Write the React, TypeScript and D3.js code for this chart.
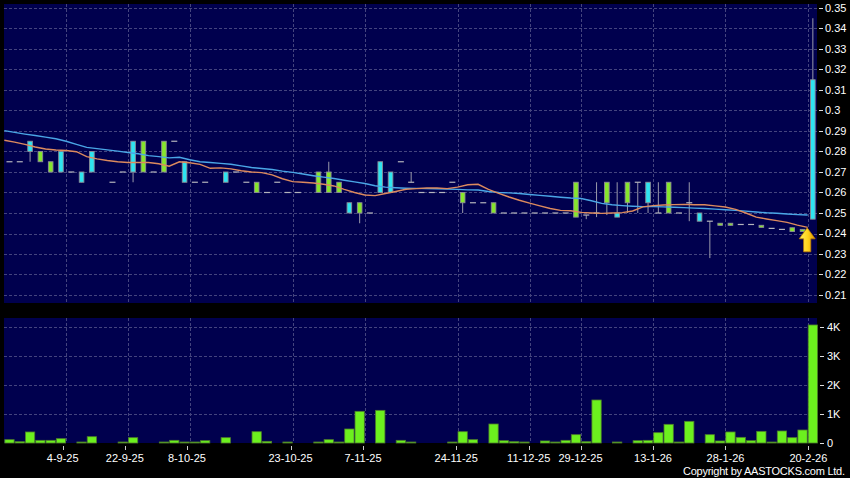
import React from 'react';
import * as d3 from 'd3';

// ---- data (one entry per trading bar, index 0..78) ----
const opens: (number | null)[] = [
  0.275, 0.275, 0.28, 0.28, 0.275, 0.27, 0.27, 0.265, 0.27, null,
  0.265, 0.27, 0.27, 0.285, 0.27, 0.285, 0.285, 0.265, 0.265, 0.265,
  null, 0.265, 0.27, 0.265, 0.265, 0.26, 0.265, 0.26, 0.26, null,
  0.27, 0.27, 0.265, 0.25, 0.255, 0.25, 0.26, 0.26, 0.275, 0.265,
  0.26, 0.26, 0.26, 0.265, 0.26, 0.255, 0.255, 0.255, 0.25, 0.25,
  0.25, 0.25, 0.25, 0.25, 0.25, 0.265, 0.249, 0.25, 0.265, 0.248,
  0.265, 0.265, 0.255, 0.25, 0.265, 0.25, 0.255, 0.246, 0.246, 0.245,
  0.245, 0.2444, 0.2444, 0.244, 0.2425, 0.242, 0.2428, 0.242, 0.247,
];
const highs: (number | null)[] = [
  0.275, 0.275, 0.285, 0.28, 0.275, 0.28, 0.27, 0.27, 0.28, null,
  0.265, 0.27, 0.285, 0.285, 0.27, 0.285, 0.285, 0.275, 0.265, 0.265,
  null, 0.27, 0.27, 0.265, 0.265, 0.26, 0.265, 0.26, 0.26, null,
  0.27, 0.275, 0.265, 0.255, 0.255, 0.25, 0.275, 0.27, 0.275, 0.27,
  0.26, 0.26, 0.26, 0.265, 0.26, 0.255, 0.255, 0.255, 0.25, 0.25,
  0.25, 0.25, 0.25, 0.25, 0.25, 0.265, 0.249, 0.265, 0.265, 0.265,
  0.265, 0.265, 0.265, 0.265, 0.265, 0.25, 0.265, 0.25, 0.246, 0.245,
  0.245, 0.2444, 0.2444, 0.244, 0.2425, 0.242, 0.2428, 0.242, 0.345,
];
const lows: (number | null)[] = [
  0.275, 0.275, 0.275, 0.275, 0.27, 0.27, 0.27, 0.265, 0.27, null,
  0.265, 0.27, 0.265, 0.27, 0.27, 0.27, 0.285, 0.265, 0.265, 0.265,
  null, 0.265, 0.27, 0.265, 0.26, 0.26, 0.265, 0.26, 0.26, null,
  0.26, 0.26, 0.26, 0.25, 0.245, 0.25, 0.26, 0.26, 0.275, 0.265,
  0.26, 0.26, 0.26, 0.265, 0.25, 0.255, 0.255, 0.25, 0.25, 0.25,
  0.25, 0.25, 0.25, 0.25, 0.25, 0.248, 0.247, 0.248, 0.249, 0.248,
  0.25, 0.25, 0.25, 0.25, 0.25, 0.25, 0.246, 0.246, 0.228, 0.244,
  0.244, 0.2444, 0.2444, 0.243, 0.2425, 0.242, 0.241, 0.241, 0.247,
];
const closes: (number | null)[] = [
  0.275, 0.275, 0.285, 0.275, 0.27, 0.28, 0.27, 0.27, 0.28, null,
  0.265, 0.27, 0.285, 0.27, 0.27, 0.27, 0.285, 0.275, 0.265, 0.265,
  null, 0.27, 0.27, 0.265, 0.26, 0.26, 0.265, 0.26, 0.26, null,
  0.26, 0.26, 0.26, 0.255, 0.25, 0.25, 0.275, 0.27, 0.275, 0.265,
  0.26, 0.26, 0.26, 0.265, 0.255, 0.255, 0.255, 0.25, 0.25, 0.25,
  0.25, 0.25, 0.25, 0.25, 0.25, 0.248, 0.249, 0.25, 0.255, 0.25,
  0.255, 0.265, 0.265, 0.25, 0.25, 0.25, 0.255, 0.25, 0.246, 0.244,
  0.244, 0.2444, 0.2444, 0.243, 0.2425, 0.242, 0.241, 0.241, 0.315,
];
const volumes: number[] = [
  115, 45, 380, 92, 92, 150, 0, 30, 218, 0,
  0, 20, 184, 0, 0, 20, 92, 15, 30, 80,
  0, 184, 0, 0, 390, 57, 0, 30, 0, 0,
  30, 115, 15, 483, 1092, 0, 1126, 0, 92, 20,
  0, 0, 0, 30, 390, 115, 0, 655, 80, 45,
  15, 0, 70, 15, 92, 287, 45, 1483, 0, 30,
  0, 80, 92, 356, 644, 20, 747, 0, 287, 70,
  380, 195, 80, 402, 20, 414, 184, 448, 4070,
];
const maLong: number[] = [
  0.2902, 0.2893, 0.2885, 0.2878, 0.287, 0.2862, 0.285, 0.2835, 0.282, 0.2814,
  0.2808, 0.2802, 0.2795, 0.2789, 0.278, 0.2775, 0.2769, 0.2772, 0.276, 0.275,
  0.2746, 0.2742, 0.2738, 0.273, 0.2722, 0.2717, 0.2712, 0.2704, 0.2698, 0.269,
  0.2682, 0.2675, 0.2668, 0.266, 0.2652, 0.2644, 0.2633, 0.2626, 0.2623, 0.2621,
  0.262, 0.2619, 0.2618, 0.2617, 0.2615, 0.2613, 0.2612, 0.2605, 0.26, 0.2598,
  0.2595, 0.259, 0.2586, 0.2582, 0.2577, 0.2573, 0.2571, 0.256, 0.2547, 0.254,
  0.2536, 0.2533, 0.2531, 0.2531, 0.253, 0.2528, 0.2526, 0.2524, 0.2522, 0.2519,
  0.2516, 0.2513, 0.2509, 0.2505, 0.2501, 0.2499, 0.2495, 0.2492, 0.249,
];
const maShort: number[] = [
  0.2855, 0.2846, 0.2835, 0.2822, 0.2812, 0.2807, 0.2805, 0.2799, 0.2775, 0.2764,
  0.2756, 0.275, 0.2746, 0.2746, 0.2746, 0.274, 0.2728, 0.275, 0.2745, 0.2737,
  0.2718, 0.272, 0.2715, 0.2706, 0.27, 0.2697, 0.2686, 0.2667, 0.2653, 0.265,
  0.2646, 0.264, 0.2632, 0.2615, 0.26, 0.2588, 0.2585, 0.2595, 0.2605, 0.2616,
  0.2619, 0.2622, 0.2622, 0.2619, 0.2626, 0.2638, 0.264, 0.2615, 0.2596, 0.2578,
  0.2562, 0.2548, 0.2535, 0.2522, 0.2513, 0.2511, 0.2503, 0.25, 0.2498, 0.25,
  0.2502, 0.251, 0.253, 0.2536, 0.2539, 0.2541, 0.2542, 0.254, 0.254, 0.2535,
  0.2529, 0.2518, 0.25, 0.248, 0.2471, 0.2463, 0.2454, 0.2441, 0.243,
];
const tickLabels = ['4-9-25', '22-9-25', '8-10-25', '23-10-25', '7-11-25', '24-11-25', '11-12-25', '29-12-25', '13-1-26', '28-1-26', '20-2-26'];
const tickIndex = [6, 12, 18, 28, 35, 44, 51, 56, 63, 70, 78];
const priceTicks = [0.21, 0.22, 0.23, 0.24, 0.25, 0.26, 0.27, 0.28, 0.29, 0.3, 0.31, 0.32, 0.33, 0.34, 0.35];
const volTicks = [0, 1000, 2000, 3000, 4000];
const volTickLabels = ['0', '1K', '2K', '3K', '4K'];

const W = 850, H = 478;
const FONT = '"Liberation Sans", Arial, sans-serif';
const NAVY = '#00004e';
const GRID = '#44447e';
const CYAN = '#2ee4f0';
const GREEN = '#86e62c';
const VOLGREEN = '#6cf01e';

export default function App() {
  const n = closes.length;
  const x = d3.scaleLinear().domain([0, n]).range([4.33, 818]);
  const xAxis = d3.scaleLinear().domain([0, n]).range([0.56, 818.7]);
  const yP = d3.scaleLinear().domain([0.21, 0.35]).range([295, 8]);
  const yV = d3.scaleLinear().domain([0, 4000]).range([443, 327]);
  const main = { x0: 4, x1: 817, y0: 4, y1: 303 };
  const vol = { y0: 318, y1: 443 };

  const lineGen = d3.line<number>().x((_, i) => x(i)).y((d) => yP(d));
  const bw = 4.6;

  const candles = closes.map((c, i) => {
    const o = opens[i], h = highs[i], l = lows[i];
    if (c == null || o == null || h == null || l == null) return null;
    const cx = x(i + 0.5);
    if (o === c && h === l) {
      return <line key={i} x1={cx - 3} x2={cx + 3} y1={yP(c)} y2={yP(c)} stroke="#b4b4bc" strokeWidth={1.2} />;
    }
    const els: React.ReactNode[] = [];
    els.push(<line key="w" x1={cx} x2={cx} y1={yP(h)} y2={yP(l)} stroke="#9a9aaa" strokeWidth={1} />);
    if (o === c) {
      els.push(<line key="d" x1={cx - 3} x2={cx + 3} y1={yP(c)} y2={yP(c)} stroke="#b4b4bc" strokeWidth={1.2} />);
    } else {
      const top = yP(Math.max(o, c)), bot = yP(Math.min(o, c));
      els.push(
        <rect key="b" x={cx - bw / 2} y={top} width={bw} height={Math.max(1, bot - top)}
          fill={c > o ? CYAN : GREEN} stroke="#8c8c96" strokeWidth={0.9} />
      );
    }
    return <g key={i}>{els}</g>;
  });

  const arrowX = x(n - 1) - 0.5;
  const arrowY = yP(maShort[n - 1]) + 0.5;

  return (
    <svg width={W} height={H} style={{ position: 'fixed', left: 0, top: 0, display: 'block' }} fontFamily={FONT}>
      <defs>
        <linearGradient id="arrowGrad" x1="0" x2="1" y1="0" y2="0">
          <stop offset="0" stopColor="#fff060" />
          <stop offset="0.55" stopColor="#ffd21a" />
          <stop offset="1" stopColor="#d89200" />
        </linearGradient>
        <clipPath id="mainClip"><rect x={main.x0} y={main.y0} width={main.x1 - main.x0} height={main.y1 - main.y0} /></clipPath>
      </defs>
      <rect x={0} y={0} width={W} height={H} fill="#000" />
      <rect x={main.x0} y={main.y0} width={main.x1 - main.x0} height={main.y1 - main.y0} fill={NAVY} />
      <rect x={main.x0} y={vol.y0} width={main.x1 - main.x0} height={vol.y1 - vol.y0} fill={NAVY} />

      {/* grids */}
      <g stroke={GRID} strokeWidth={1} strokeDasharray="3,2">
        {priceTicks.map((t) => (
          <line key={'hp' + t} x1={main.x0} x2={main.x1} y1={Math.round(yP(t)) + 0.5} y2={Math.round(yP(t)) + 0.5} />
        ))}
        {volTicks.slice(1).map((t) => (
          <line key={'hv' + t} x1={main.x0} x2={main.x1} y1={Math.round(yV(t)) + 0.5} y2={Math.round(yV(t)) + 0.5} />
        ))}
        {tickIndex.map((t) => (
          <g key={'vg' + t}>
            <line x1={Math.round(x(t)) + 0.5} x2={Math.round(x(t)) + 0.5} y1={main.y0} y2={main.y1} />
            <line x1={Math.round(x(t)) + 0.5} x2={Math.round(x(t)) + 0.5} y1={vol.y0} y2={vol.y1} />
          </g>
        ))}
      </g>

      {/* candles */}
      <g clipPath="url(#mainClip)">
        {candles}
        <path d={lineGen(maLong) || ''} fill="none" stroke="#4aa6e6" strokeWidth={1.4} />
        <path d={lineGen(maShort) || ''} fill="none" stroke="#dc8a5e" strokeWidth={1.4} />
      </g>

      {/* arrow marker */}
      <path
        transform={`translate(${arrowX},${arrowY})`}
        d="M0,0 L8,11 L3.6,11 L3.6,24 L-3.6,24 L-3.6,11 L-8,11 Z"
        fill="url(#arrowGrad)" stroke="#c07a00" strokeWidth={0.7}
      />

      {/* volume bars */}
      <g>
        {volumes.map((v, i) => {
          if (!v) return null;
          const top = yV(v);
          const h = Math.max(1, yV(0) - top);
          return (
            <rect key={i} x={x(i) + 0.5} y={yV(0) - h} width={x(i + 1) - x(i) - 1} height={h}
              fill={VOLGREEN} stroke="#4f7d2c" strokeWidth={0.8} />
          );
        })}
      </g>

      {/* right price axis */}
      <g fill="#fff" fontSize={11}>
        {priceTicks.map((t) => (
          <g key={'pl' + t}>
            <line x1={819} x2={823} y1={Math.round(yP(t)) + 0.5} y2={Math.round(yP(t)) + 0.5} stroke="#ddd" strokeWidth={1} />
            <text x={825} y={yP(t)} dy="0.35em">{String(+t.toFixed(2))}</text>
          </g>
        ))}
        {volTicks.map((t, k) => (
          <g key={'vl' + t}>
            <line x1={820} x2={824} y1={Math.round(yV(t)) + 0.5} y2={Math.round(yV(t)) + 0.5} stroke="#ddd" strokeWidth={1} />
            <text x={827} y={yV(t)} dy="0.35em">{volTickLabels[k]}</text>
          </g>
        ))}
      </g>

      {/* date axis */}
      <g fill="#fff" fontSize={11}>
        {tickIndex.map((t, k) => (
          <g key={'dl' + t}>
            <line x1={Math.round(xAxis(t)) + 0.5} x2={Math.round(xAxis(t)) + 0.5} y1={446} y2={450} stroke="#ccc" strokeWidth={1} />
            <text x={xAxis(t)} y={462} textAnchor="middle">{tickLabels[k]}</text>
          </g>
        ))}
      </g>

      <text x={683} y={475} fill="#fff" fontSize={11} textLength={162} lengthAdjust="spacing">Copyright by AASTOCKS.com Ltd.</text>
    </svg>
  );
}
